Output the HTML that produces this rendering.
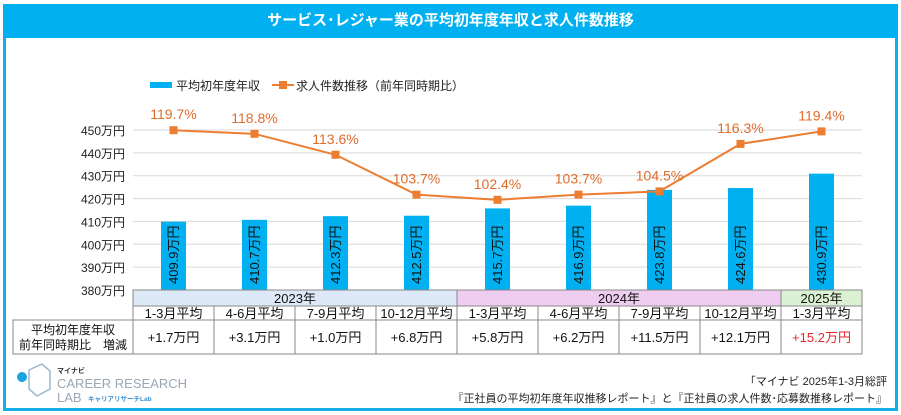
<!DOCTYPE html>
<html><head><meta charset="utf-8"><style>
body{margin:0;width:901px;height:415px;background:#fff;overflow:hidden;font-family:"Liberation Sans","Noto Sans CJK JP",sans-serif;}
#frame{position:absolute;left:3px;top:4px;width:889px;height:404px;border:3px solid #14aee8;border-top:none;}
#title{position:absolute;left:3px;top:4px;width:895px;height:34px;background:#00b0f0;color:#fff;font-weight:bold;font-size:15px;text-align:center;line-height:34px;}
svg{position:absolute;left:0;top:0;}
</style></head><body>
<div id="frame"></div>
<div id="title">サービス･レジャー業の平均初年度年収と求人件数推移</div>
<svg id="chart" width="901" height="415" font-family="Liberation Sans, Noto Sans CJK JP, sans-serif"></svg>
<script>
const quarters=["1-3月平均","4-6月平均","7-9月平均","10-12月平均","1-3月平均","4-6月平均","7-9月平均","10-12月平均","1-3月平均"];
const salary=[409.9,410.7,412.3,412.5,415.7,416.9,423.8,424.6,430.9];
const ratio=[119.7,118.8,113.6,103.7,102.4,103.7,104.5,116.3,119.4];
const diffs=["+1.7万円","+3.1万円","+1.0万円","+6.8万円","+5.8万円","+6.2万円","+11.5万円","+12.1万円","+15.2万円"];
const yTicks=[380,390,400,410,420,430,440,450];
const years=["2023年","2024年","2025年"];
const yearSpans=[4,4,1];
const yearColors=["#dde9f6","#efcdf0","#dcf1d3"];
const NS="http://www.w3.org/2000/svg";
const svg=document.getElementById('chart');
const x0=133,colW=81,yBot=290;
const yL=v=>yBot-(v-380)*(160/70);
const yR=v=>yBot-(v-80)/40*161;
const xc=i=>x0+colW*i+colW/2;
function mk(tag,attrs,parent){const e=document.createElementNS(NS,tag);for(const k in attrs)e.setAttribute(k,attrs[k]);(parent||svg).appendChild(e);return e;}
yTicks.forEach(t=>{
  const g=mk('line',{x1:x0,x2:862,y1:yL(t),y2:yL(t),stroke:'#d9d9d9','stroke-width':1});
  
  
  const l=mk('text',{x:125,y:yL(t)+5,'text-anchor':'end','font-size':12,fill:'#222'});
  l.textContent=t+'万円';
  
  
});
salary.forEach((v,i)=>{
  const b=mk('rect',{x:xc(i)-12.5,y:yL(v),width:25,height:yBot-yL(v),fill:'#00b0f0'});
  
  
  const cy=yBot-6;
  const t=mk('text',{x:xc(i),y:cy,'text-anchor':'start','dominant-baseline':'central','font-size':13,fill:'#111',transform:`rotate(-90 ${xc(i)} ${cy})`});
  t.textContent=v.toFixed(1)+'万円';
  
  
});
const pts=ratio.map((v,i)=>xc(i)+','+yR(v)).join(' ');
const pl=mk('polyline',{points:pts,fill:'none',stroke:'#ed7d31','stroke-width':2});


ratio.forEach((v,i)=>{
  const m=mk('rect',{x:xc(i)-4,y:yR(v)-4,width:8,height:8,fill:'#ed7d31'});
  
  
  const t=mk('text',{x:xc(i),y:yR(v)-11,'text-anchor':'middle','font-size':14,fill:'#e06c2c'});
  t.textContent=v.toFixed(1)+'%';
  
  
});
let c=0;
years.forEach((y,k)=>{
  const r=mk('rect',{x:x0+c*colW,y:290,width:yearSpans[k]*colW,height:16,fill:yearColors[k],stroke:'#888','stroke-width':1});
  
  
  const t=mk('text',{x:x0+(c+yearSpans[k]/2)*colW,y:303,'text-anchor':'middle','font-size':13,fill:'#111'});
  t.textContent=y;
  
  
  c+=yearSpans[k];
});
quarters.forEach((q,i)=>{
  const r=mk('rect',{x:x0+i*colW,y:306,width:colW,height:14,fill:'#fff',stroke:'#888','stroke-width':1});
  
  
  const t=mk('text',{x:xc(i),y:318,'text-anchor':'middle','font-size':13,fill:'#111'});
  t.textContent=q;
  
  
  const r2=mk('rect',{x:x0+i*colW,y:320,width:colW,height:34,fill:'#fff',stroke:'#888','stroke-width':1});
  
  
  const t2=mk('text',{x:xc(i),y:342,'text-anchor':'middle','font-size':13,fill:i===8?'#e8232a':'#111'});
  t2.textContent=diffs[i];
  
  
});
const hc=mk('rect',{x:13,y:320,width:120,height:34,fill:'#fff',stroke:'#888','stroke-width':1});


[["平均初年度年収",334],["前年同時期比　増減",349]].forEach(([s,y])=>{
  const t=mk('text',{x:73,y:y,'text-anchor':'middle','font-size':12,fill:'#111'});
  t.textContent=s;
  
  
});
</script>
<svg width="901" height="415" font-family="Liberation Sans, Noto Sans CJK JP, sans-serif">
<g>
<rect x="150" y="82" width="22" height="6" fill="#00b0f0"/>
<text x="176" y="90" font-size="12" fill="#222">平均初年度年収</text>
<line x1="272" y1="85" x2="294" y2="85" stroke="#ed7d31" stroke-width="2"/>
<rect x="279" y="81" width="8" height="8" fill="#ed7d31"/>
<text x="296" y="90" font-size="12" fill="#222">求人件数推移（前年同時期比）</text>
</g>
<g>
<circle cx="22" cy="377" r="5" fill="#1aa4e0"/>
<path d="M29 370 L42 364 L50 371 L50 389 L37 396 L29 389 Z" fill="none" stroke="#9ab8cf" stroke-width="1.5"/>
<text x="57" y="373" font-size="7" font-weight="bold" fill="#333">マイナビ</text>
<text x="57" y="388" font-size="13" fill="#9aa7b4">CAREER RESEARCH</text>
<text x="57" y="402" font-size="13" fill="#9aa7b4">LAB</text>
<text x="88" y="401" font-size="6.5" font-weight="bold" fill="#3b8fd0">キャリアリサーチLab</text>
</g>
<text x="887" y="385" text-anchor="end" font-size="11" fill="#222">「マイナビ 2025年1-3月総評</text>
<text x="887" y="402" text-anchor="end" font-size="11" fill="#222">『正社員の平均初年度年収推移レポート』と『正社員の求人件数･応募数推移レポート』</text>
</svg>
</body></html>
